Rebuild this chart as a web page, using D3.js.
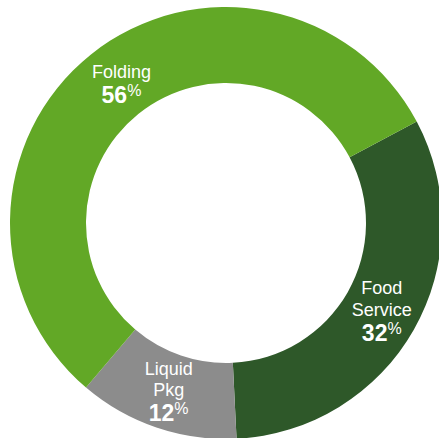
<!DOCTYPE html>
<html>
<head>
<meta charset="utf-8">
<script src="https://cdn.jsdelivr.net/npm/d3@7"></script>
<style>
  html, body { margin: 0; padding: 0; background: #fff; }
  svg { display: block; font-family: "Liberation Sans", Arial, sans-serif; }
</style>
</head>
<body>
<div id="chart"></div>
<script>
// Segment data, in drawing order (clockwise from the top-right boundary)
const categories = ['Food Service', 'Liquid Pkg', 'Folding'];
const labelLines = [['Food', 'Service'], ['Liquid', 'Pkg'], ['Folding']];
const shares = [32, 12, 56];
const colors = ['#2e5829', '#8c8c8c', '#62a826'];

const width = 439, height = 438;
const cx = 226, cy = 223;
const outerR = 216, innerR = 140;
// small horizontal nudges for the labels, same order as categories
const labelNudge = [1, 0, 7];

const svg = d3.select('#chart')
    .append('svg')
    .attr('width', width)
    .attr('height', height);

const g = svg.append('g').attr('transform', `translate(${cx},${cy})`);

const startAngle = 62 * Math.PI / 180;
const pie = d3.pie()
    .sort(null)
    .value(d => d.value)
    .startAngle(startAngle)
    .endAngle(startAngle + 2 * Math.PI);

const data = categories.map((c, i) => ({ name: c, lines: labelLines[i], value: shares[i], color: colors[i] }));
const arcs = pie(data);

const arc = d3.arc().innerRadius(innerR).outerRadius(outerR);
const labelArc = d3.arc().innerRadius(178).outerRadius(178);

g.selectAll('path.slice')
    .data(arcs)
    .enter()
    .append('path')
    .attr('class', 'slice')
    .attr('d', arc)
    .attr('fill', d => d.data.color);

// Labels: name lines then bold percentage with small raised %
const nameSize = 18, lineGap = 21.5, pctGap = 25, capH = 13;

arcs.forEach((a, idx) => {
    let [lx, ly] = labelArc.centroid(a);
    lx += labelNudge[idx];
    const n = a.data.lines.length;
    const span = (n - 1) * lineGap + pctGap;
    const firstBase = ly - (span - capH) / 2;

    const t = g.append('text')
        .attr('text-anchor', 'middle')
        .attr('fill', '#fff');

    a.data.lines.forEach((line, i) => {
        t.append('tspan')
            .attr('x', lx)
            .attr('y', firstBase + i * lineGap)
            .attr('font-size', nameSize)
            .text(line);
    });

    const pt = g.append('text')
        .attr('text-anchor', 'middle')
        .attr('fill', '#fff')
        .attr('x', lx)
        .attr('y', firstBase + span);
    pt.append('tspan')
        .attr('font-size', 23)
        .attr('font-weight', 'bold')
        .text(a.data.value);
    pt.append('tspan')
        .attr('font-size', 16)
        .attr('dy', -7)
        .text('%');
});
</script>
</body>
</html>
